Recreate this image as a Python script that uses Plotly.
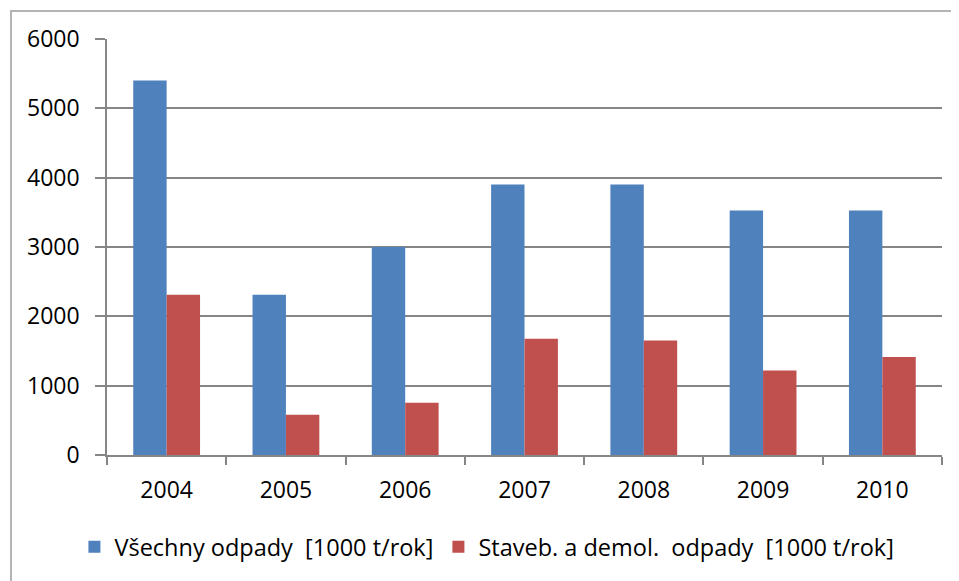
import plotly.graph_objects as go

# data
years = ['2004', '2005', '2006', '2007', '2008', '2009', '2010']
vsechny = [5400, 2310, 3000, 3900, 3900, 3525, 3525]
staveb = [2310, 580, 755, 1675, 1650, 1220, 1415]
y_ticks = [0, 1000, 2000, 3000, 4000, 5000, 6000]

name_all = 'Všechny odpady\u00a0 [1000 t/rok]'
name_build = 'Staveb. a demol.\u00a0 odpady\u00a0 [1000 t/rok]'

FONT = 'Open Sans'
GRID = '#868686'

fig = go.Figure()
fig.add_trace(go.Bar(x=years, y=vsechny, name=name_all,
                     marker=dict(color='#4F81BD', line=dict(width=0))))
fig.add_trace(go.Bar(x=years, y=staveb, name=name_build,
                     marker=dict(color='#C0504D', line=dict(width=0))))

# the page puts the plot 8px in from the top-left corner, so size/margins allow for that
fig.update_layout(
    width=951, height=573,
    margin=dict(l=99, r=17, t=31, b=126),
    paper_bgcolor='white', plot_bgcolor='white',
    barmode='group', bargap=0.44, bargroupgap=0,
    font=dict(family=FONT, size=23, color='#000000'),
    showlegend=True,
    legend=dict(orientation='h', x=0.455, xanchor='center', y=-0.221, yanchor='middle',
                font=dict(size=23.5), itemwidth=30, traceorder='normal',
                bgcolor='rgba(0,0,0,0)'),
    # outer chart frame
    shapes=[dict(type='rect', xref='paper', yref='paper',
                 x0=-0.115, x1=1.05, y0=-0.35, y1=1.0673,
                 line=dict(color='#b4b4b4', width=2), layer='below')],
)

fig.update_xaxes(
    type='category', showgrid=False, showline=True, linecolor=GRID, linewidth=1.5,
    ticks='outside', ticklen=8, tickcolor=GRID, tickwidth=1.5,
    tickson='boundaries', ticklabelstandoff=14,
    tickfont=dict(size=23, family=FONT),
)
fig.update_yaxes(
    range=[0, 6000], tickvals=y_ticks, showgrid=True, gridcolor=GRID, gridwidth=1.5,
    showline=True, linecolor=GRID, linewidth=1.5, zeroline=False,
    ticks='outside', ticklen=10, tickcolor=GRID, tickwidth=1.5,
    ticklabelstandoff=11, tickfont=dict(size=23, family=FONT),
)

fig.write_html("out.html")
